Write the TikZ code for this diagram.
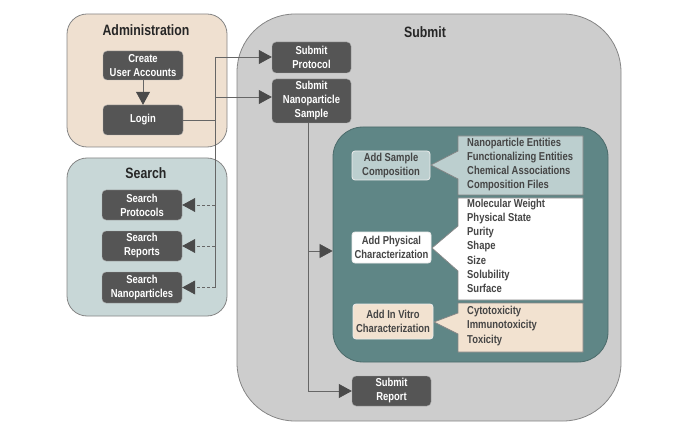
\documentclass[tikz,border=0pt]{standalone}
\usepackage{fontspec}
\setmainfont{Liberation Sans}[FakeStretch=0.82]
\usetikzlibrary{arrows.meta}
\definecolor{adminfill}{HTML}{EFE0D0}
\definecolor{searchfill}{HTML}{C8D7D7}
\definecolor{submitfill}{HTML}{CDCDCD}
\definecolor{tealfill}{HTML}{5F8686}
\definecolor{darkfill}{HTML}{555555}
\definecolor{lteal}{HTML}{BCCFCF}
\definecolor{peach}{HTML}{F2E2D0}
\definecolor{edgegray}{HTML}{858585}
\definecolor{txtgray}{HTML}{454545}
\definecolor{tipgray}{HTML}{4A4A4A}
\begin{document}
\begin{tikzpicture}[x=1pt,y=-1pt,
  container/.style={draw=edgegray,line width=0.8pt,inner sep=0pt},
  title/.style={font=\fontsize{15}{17}\selectfont\bfseries,text=black!85},
  darkbox/.style={draw=edgegray!70,fill=darkfill,rounded corners=4pt,text=white,
    font=\fontsize{11.5}{14}\selectfont\bfseries,align=center,inner sep=0pt},
  lightbox/.style={draw=white!85!gray,line width=0.8pt,rounded corners=3pt,text=txtgray,
    font=\fontsize{11.5}{14}\selectfont\bfseries,align=center,inner sep=0pt},
  listtext/.style={text=txtgray,font=\fontsize{11.5}{14.3}\selectfont\bfseries,
    align=left,inner sep=0pt,anchor=north west},
  callout/.style={draw=edgegray,line width=0.7pt},
  conn/.style={draw=gray!80!black,line width=0.7pt},
  dconn/.style={conn,dash pattern=on 3pt off 2pt},
  tip/.style={-{Triangle[width=14pt,length=13pt,fill=tipgray,color=tipgray]}},
]
\useasboundingbox (0,0) rectangle (684,438);

% containers
\node[container,fill=adminfill,rounded corners=20pt,minimum width=160pt,minimum height=133pt] (admin) at (147,80.5) {};
\node[container,fill=searchfill,rounded corners=20pt,minimum width=160pt,minimum height=158pt] (search) at (147,237) {};
\node[container,fill=submitfill,rounded corners=58pt,minimum width=384pt,minimum height=407pt] (submit) at (429,217.5) {};
\node[container,draw=tealfill!80!black,fill=tealfill,rounded corners=30pt,minimum width=275pt,minimum height=235pt] (teal) at (470.5,244.5) {};

% titles
\node[title] (tadmin) at (146,30) {Administration};
\node[title] (tsearch) at (146,173) {Search};
\node[title] (tsubmit) at (425,32) {Submit};

% admin boxes
\node[darkbox,minimum width=80pt,minimum height=29pt] (create) at (143,65.5) {Create\\User Accounts};
\node[darkbox,minimum width=80pt,minimum height=30pt] (login) at (143,120) {Login};

% search boxes
\node[darkbox,minimum width=80pt,minimum height=30pt] (sprot) at (142,205) {Search\\Protocols};
\node[darkbox,minimum width=80pt,minimum height=30pt] (srep) at (142,246) {Search\\Reports};
\node[darkbox,minimum width=80pt,minimum height=31pt] (snano) at (142,287.5) {Search\\Nanoparticles};

% submit boxes
\node[darkbox,minimum width=79pt,minimum height=31pt] (subprot) at (311.5,57.5) {Submit\\Protocol};
\node[darkbox,minimum width=79pt,minimum height=44pt] (subnp) at (311.5,101) {Submit\\Nanoparticle\\Sample};
\node[darkbox,minimum width=79pt,minimum height=30pt] (subrep) at (391.5,391) {Submit\\Report};

% callout lists
\draw[callout,fill=lteal] (583,136) -- (458,136) -- (458,151) -- (431,165) -- (458,179) -- (458,195) -- (583,195) -- cycle;
\draw[callout,fill=white] (583,198) -- (458,198) -- (458,226) -- (432,248) -- (458,271) -- (458,300) -- (583,300) -- cycle;
\draw[callout,fill=peach] (583,303) -- (458,303) -- (458,313) -- (434,322) -- (458,334) -- (458,352) -- (583,352) -- cycle;

\node[listtext] (lcomp) at (467,137.5) {Nanoparticle Entities\\Functionalizing Entities\\Chemical Associations\\Composition Files};
\node[listtext] (lphys) at (467,198.5) {Molecular Weight\\Physical State\\Purity\\Shape\\Size\\Solubility\\Surface};
\node[listtext] (lvitro) at (467,306) {Cytotoxicity\\Immunotoxicity\\Toxicity};

% teal box labels
\node[lightbox,fill=lteal,minimum width=78pt,minimum height=29pt] (addcomp) at (391,165.5) {Add Sample\\Composition};
\node[lightbox,fill=white,minimum width=79pt,minimum height=31pt] (addphys) at (391.5,247.5) {Add Physical\\Characterization};
\node[lightbox,fill=peach,minimum width=80pt,minimum height=35pt] (addvitro) at (393,321.5) {Add In Vitro\\Characterization};

% connectors
\draw[conn,tip] (create) -- (login);
\coordinate (bt) at (215,57);
\coordinate (bn) at (215,97);
\coordinate (bb) at (215,287.5);
\draw[conn] (login.east) -- (login.east -| bt);
\draw[conn] (bt) -- (bb);
\draw[conn,tip] (bt) -- (bt -| subprot.west);
\draw[conn,tip] (bn) -- (bn -| subnp.west);
\draw[dconn,tip] (sprot.east -| bt) -- (sprot.east);
\draw[dconn,tip] (srep.east -| bt) -- (srep.east);
\draw[dconn,tip] (snano.east -| bt) -- (snano.east);

\coordinate (vs) at ([xshift=-3.5pt]subnp.south);
\coordinate (vm) at (308,251);
\draw[conn,tip] (vs) |- (subrep.west);
\draw[conn,tip] (vm) -- (vm -| teal.west);
\end{tikzpicture}
\end{document}
